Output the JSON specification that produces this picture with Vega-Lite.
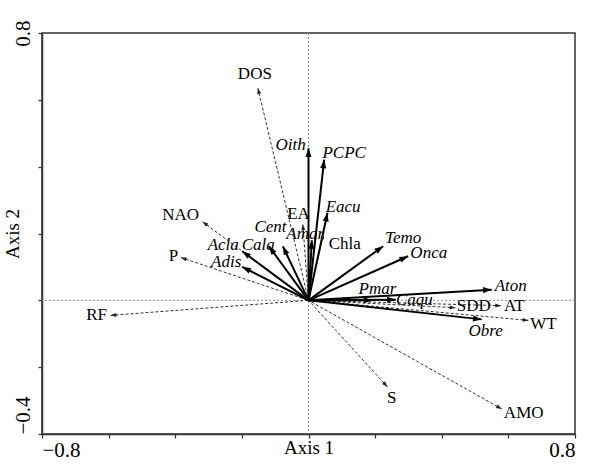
{
  "$schema": "https://vega.github.io/schema/vega-lite/v6.json",
  "width": 533,
  "height": 401,
  "autosize": {"type": "none"},
  "padding": {"left": 42, "top": 33, "right": 26, "bottom": 31},
  "background": "white",
  "config": {
    "view": {"stroke": "#333", "strokeWidth": 1.5},
    "axis": {
      "grid": false,
      "domainColor": "#333",
      "domainWidth": 1.5,
      "tickColor": "#333",
      "tickWidth": 1.3,
      "tickSize": 4,
      "labelFont": "Liberation Serif",
      "labelFontSize": 21,
      "labelColor": "black",
      "titleFont": "Liberation Serif",
      "titleFontSize": 19,
      "titleFontWeight": "normal",
      "titleColor": "black"
    }
  },
  "datasets": {
    "vectors": [
      {"name": "DOS", "type": "env", "x": -0.152, "y": 0.635, "lx": -0.161, "ly": 0.677},
      {"name": "Oith", "type": "species", "x": 0.0, "y": 0.455, "lx": -0.054, "ly": 0.465},
      {"name": "PCPC", "type": "species", "x": 0.047, "y": 0.421, "lx": 0.107, "ly": 0.44},
      {"name": "Eacu", "type": "species", "x": 0.057, "y": 0.262, "lx": 0.104, "ly": 0.28},
      {"name": "EA", "type": "env", "x": -0.017, "y": 0.227, "lx": -0.03, "ly": 0.259},
      {"name": "Amar", "type": "species", "x": 0.01, "y": 0.18, "lx": -0.01, "ly": 0.199},
      {"name": "Chla", "type": "env", "x": 0.045, "y": 0.2, "lx": 0.109, "ly": 0.17},
      {"name": "Cent", "type": "species", "x": -0.077, "y": 0.162, "lx": -0.114, "ly": 0.219},
      {"name": "Cala", "type": "species", "x": -0.119, "y": 0.162, "lx": -0.151, "ly": 0.165},
      {"name": "Acla", "type": "species", "x": -0.199, "y": 0.147, "lx": -0.256, "ly": 0.166},
      {"name": "Adis", "type": "species", "x": -0.199, "y": 0.1, "lx": -0.247, "ly": 0.114},
      {"name": "NAO", "type": "env", "x": -0.318, "y": 0.235, "lx": -0.384, "ly": 0.255},
      {"name": "P", "type": "env", "x": -0.383, "y": 0.128, "lx": -0.405, "ly": 0.134},
      {"name": "Temo", "type": "species", "x": 0.224, "y": 0.162, "lx": 0.284, "ly": 0.186},
      {"name": "Onca", "type": "species", "x": 0.299, "y": 0.132, "lx": 0.361, "ly": 0.143},
      {"name": "Aton", "type": "species", "x": 0.55, "y": 0.032, "lx": 0.607, "ly": 0.044},
      {"name": "Pmar", "type": "species", "x": 0.192, "y": 0.0, "lx": 0.207, "ly": 0.035},
      {"name": "Caqu", "type": "species", "x": 0.262, "y": 0.002, "lx": 0.318, "ly": 0.002},
      {"name": "SDD", "type": "env", "x": 0.441, "y": -0.022, "lx": 0.496, "ly": -0.017},
      {"name": "AT", "type": "env", "x": 0.578, "y": -0.016, "lx": 0.618, "ly": -0.018},
      {"name": "WT", "type": "env", "x": 0.66, "y": -0.06, "lx": 0.705, "ly": -0.07},
      {"name": "Obre", "type": "species", "x": 0.52, "y": -0.057, "lx": 0.532, "ly": -0.092},
      {"name": "S", "type": "env", "x": 0.237, "y": -0.259, "lx": 0.25, "ly": -0.293},
      {"name": "AMO", "type": "env", "x": 0.58, "y": -0.325, "lx": 0.646, "ly": -0.338},
      {"name": "RF", "type": "env", "x": -0.594, "y": -0.045, "lx": -0.636, "ly": -0.045}
    ]
  },
  "encoding": {
    "x": {
      "type": "quantitative",
      "scale": {"domain": [-0.8, 0.8], "nice": false, "zero": false},
      "axis": {
        "title": "Axis 1",
        "values": [-0.8, -0.6, -0.4, -0.2, 0, 0.2, 0.4, 0.6, 0.8],
        "labelExpr": "abs(datum.value) > 0.79 ? datum.label : ''",
        "labelPadding": 1,
        "titlePadding": -22
      }
    },
    "y": {
      "type": "quantitative",
      "scale": {"domain": [-0.4, 0.8], "nice": false, "zero": false},
      "axis": {
        "title": "Axis 2",
        "values": [-0.4, -0.2, 0, 0.2, 0.4, 0.6, 0.8],
        "labelExpr": "(datum.value > 0.79 || datum.value < -0.39) ? datum.label : ''",
        "labelAngle": -90,
        "labelBaseline": "bottom",
        "labelAlign": {"condition": {"test": "datum.value < 0", "value": "left"}, "value": "center"},
        "labelPadding": 5,
        "titlePadding": -10
      }
    }
  },
  "layer": [
    {
      "data": {"values": [{"v": 0}]},
      "mark": {"type": "rule", "color": "#888", "strokeWidth": 1, "strokeDash": [2, 2]},
      "encoding": {"x": {"field": "v", "type": "quantitative"}}
    },
    {
      "data": {"values": [{"v": 0}]},
      "mark": {"type": "rule", "color": "#888", "strokeWidth": 1, "strokeDash": [2, 2]},
      "encoding": {"y": {"field": "v", "type": "quantitative"}}
    },
    {
      "data": {"name": "vectors"},
      "transform": [{"filter": "datum.type == 'env'"}],
      "mark": {"type": "rule", "color": "#333", "strokeWidth": 1, "strokeDash": [3, 2]},
      "encoding": {
        "x": {"field": "x", "type": "quantitative"},
        "y": {"field": "y", "type": "quantitative"},
        "x2": {"datum": 0},
        "y2": {"datum": 0}
      }
    },
    {
      "data": {"name": "vectors"},
      "transform": [{"filter": "datum.type == 'species'"}],
      "mark": {"type": "rule", "color": "black", "strokeWidth": 2},
      "encoding": {
        "x": {"field": "x", "type": "quantitative"},
        "y": {"field": "y", "type": "quantitative"},
        "x2": {"datum": 0},
        "y2": {"datum": 0}
      }
    },
    {
      "data": {"name": "vectors"},
      "transform": [
        {"filter": "datum.type == 'env'"},
        {"calculate": "atan2(datum.x, datum.y) * 180 / PI", "as": "ang"}
      ],
      "mark": {"type": "point", "shape": "M0,0L-0.35,1L0.35,1Z", "filled": true, "color": "#222", "size": 130, "opacity": 1},
      "encoding": {
        "x": {"field": "x", "type": "quantitative"},
        "y": {"field": "y", "type": "quantitative"},
        "angle": {"field": "ang", "type": "quantitative", "scale": null}
      }
    },
    {
      "data": {"name": "vectors"},
      "transform": [
        {"filter": "datum.type == 'species'"},
        {"calculate": "atan2(datum.x, datum.y) * 180 / PI", "as": "ang"}
      ],
      "mark": {"type": "point", "shape": "M0,0L-0.35,1L0.35,1Z", "filled": true, "color": "black", "size": 300, "opacity": 1},
      "encoding": {
        "x": {"field": "x", "type": "quantitative"},
        "y": {"field": "y", "type": "quantitative"},
        "angle": {"field": "ang", "type": "quantitative", "scale": null}
      }
    },
    {
      "data": {"name": "vectors"},
      "transform": [{"filter": "datum.type == 'env'"}],
      "mark": {"type": "text", "font": "Liberation Serif", "fontSize": 17, "color": "black", "align": "center", "baseline": "middle"},
      "encoding": {
        "x": {"field": "lx", "type": "quantitative"},
        "y": {"field": "ly", "type": "quantitative"},
        "text": {"field": "name"}
      }
    },
    {
      "data": {"name": "vectors"},
      "transform": [{"filter": "datum.type == 'species'"}],
      "mark": {"type": "text", "font": "Liberation Serif", "fontSize": 17, "fontStyle": "italic", "color": "black", "align": "center", "baseline": "middle"},
      "encoding": {
        "x": {"field": "lx", "type": "quantitative"},
        "y": {"field": "ly", "type": "quantitative"},
        "text": {"field": "name"}
      }
    }
  ]
}
